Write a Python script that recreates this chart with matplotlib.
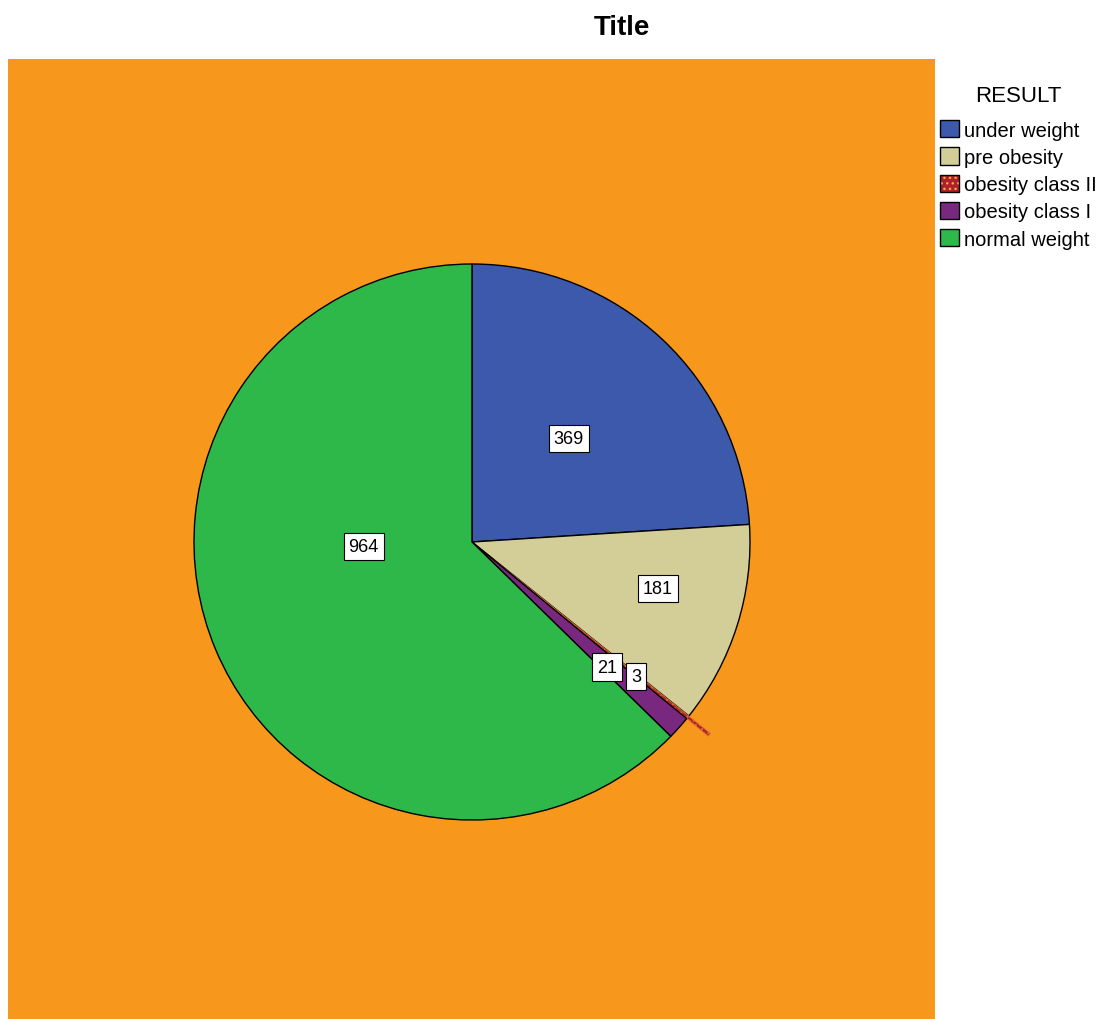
import matplotlib
matplotlib.use("Agg")
import matplotlib.pyplot as plt
from matplotlib.patches import Patch
from matplotlib.legend_handler import HandlerTuple
import numpy as np

plt.rcParams['font.family'] = ['Liberation Sans', 'DejaVu Sans']

categories = ["under weight", "pre obesity", "obesity class II", "obesity class I", "normal weight"]
values = [369, 181, 3, 21, 964]
colors = ["#3D59AB", "#D3CE97", "#B0202A", "#79287F", "#2EB84A"]
legend_title = "RESULT"
title = "Title"
bg = "#F7981D"

W, H = 1113, 1020
fig = plt.figure(figsize=(W / 100, H / 100), dpi=100)
# orange plot area
left, right, top, bottom = 8, 935, 60, 1020
ax = fig.add_axes([left / W, 1 - bottom / H, (right - left) / W, (bottom - top) / H])
ax.set_facecolor(bg)
cx, cy, R = 472, 543, 278
for s in ax.spines.values():
    s.set_visible(False)

explode = [0, 0, 0.1, 0, 0]
wedges, _ = ax.pie(values, colors=colors, startangle=90, counterclock=False,
                   explode=explode, radius=1.0, center=(0, 0),
                   wedgeprops=dict(edgecolor="black", linewidth=1.0), frame=True)
wedges[2].set_hatch("....")
wedges[2].set_edgecolor("#E07030")
wedges[2].set_linewidth(0.6)
ax.set_xlim((left - cx) / R, (right - cx) / R)
ax.set_ylim((cy - bottom) / R, (cy - top) / R)
ax.set_aspect('auto')
ax.set_xticks([]); ax.set_yticks([])

# label positions (radius fraction, angle in degrees)
label_pos = [(0.51, 47), (0.69, -14), (0.762, -39.3), (0.662, -42.8), (0.39, 182.5)]
for v, (rf, ang) in zip(values, label_pos):
    a = np.deg2rad(ang)
    x, y = rf * np.cos(a), rf * np.sin(a)
    ax.text(x, y, str(v), ha="center", va="center", fontsize=13, color="black",
            bbox=dict(boxstyle="square,pad=0.28", facecolor="white", edgecolor="black", linewidth=0.8),
            zorder=5)

fig.text(622 / W, 1 - 28 / H, title, ha="center", va="center", fontsize=20, fontweight="bold")

handles = []
for c, cat in zip(colors, categories):
    if cat == "obesity class II":
        h = (Patch(facecolor=c, edgecolor="#E8B040", hatch="...", linewidth=0),
             Patch(facecolor="none", edgecolor="black", linewidth=1.0))
    else:
        h = Patch(facecolor=c, edgecolor="black", linewidth=1.0)
    handles.append(h)

leg = fig.legend(handles, categories, title=legend_title, loc="upper left",
                 bbox_to_anchor=(926 / W, 1 - 72 / H), frameon=False, fontsize=14.5,
                 title_fontsize=16, handlelength=0.95, handleheight=0.95, handletextpad=0.25,
                 labelspacing=0.38, borderpad=0.2,
                 handler_map={tuple: HandlerTuple(ndivide=1)})
leg._legend_box.sep = 10

fig.savefig("out.png", dpi=100, facecolor="white")
